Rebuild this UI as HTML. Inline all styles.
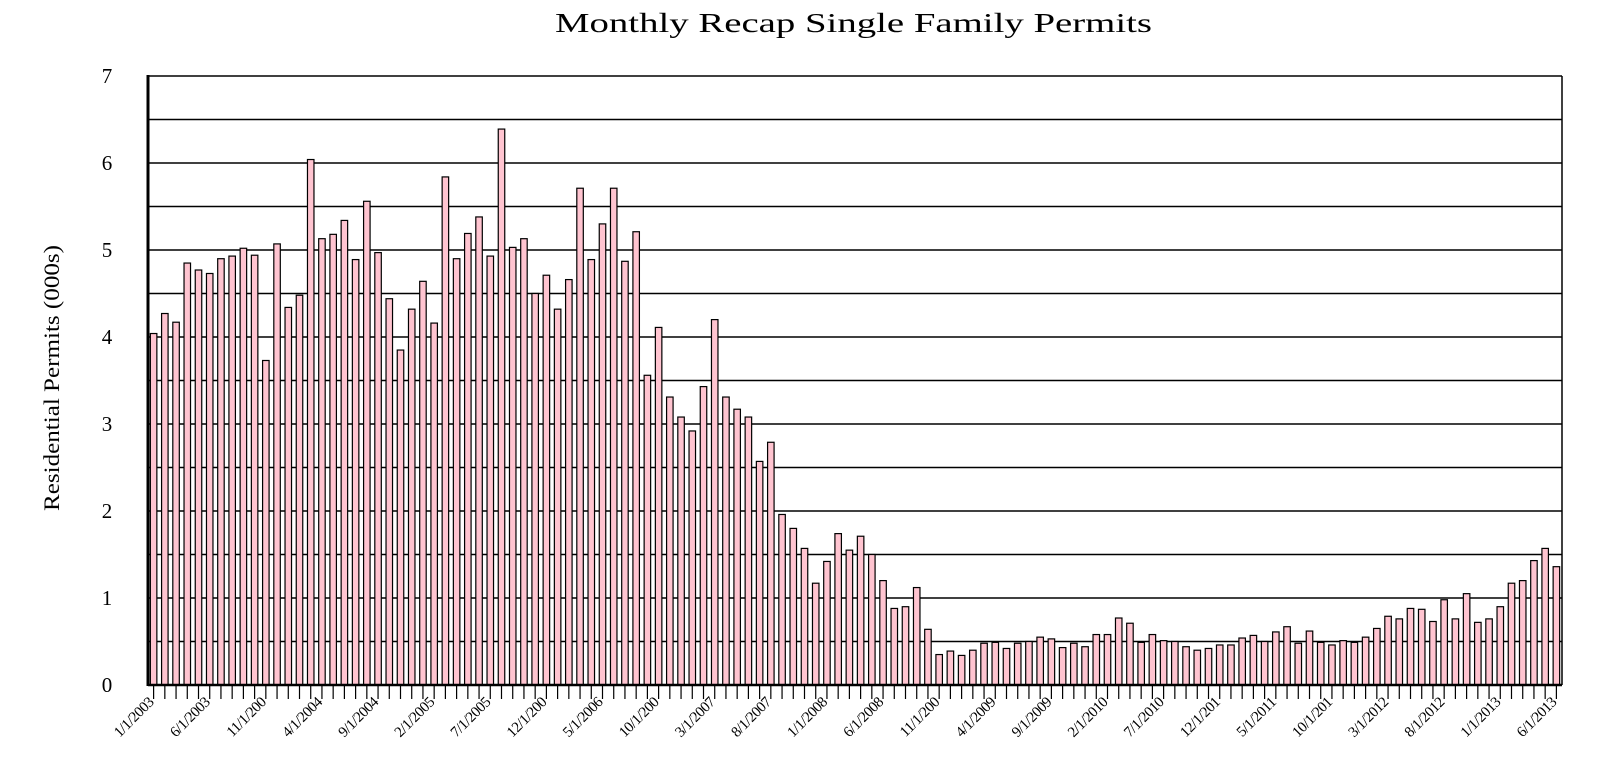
<!DOCTYPE html>
<html><head><meta charset="utf-8"><style>
html,body{margin:0;padding:0;background:#fff;}
svg{display:block;font-family:"Liberation Serif",serif;}
</style></head><body>
<svg id="chart" width="1598" height="769" viewBox="0 0 1598 769" xmlns="http://www.w3.org/2000/svg">
<text x="555" y="32" font-size="27" textLength="597" lengthAdjust="spacingAndGlyphs" fill="#000">Monthly Recap Single Family Permits</text>
<text transform="translate(59,378) rotate(-90)" text-anchor="middle" font-size="22" textLength="266" lengthAdjust="spacingAndGlyphs" fill="#000">Residential Permits (000s)</text>
<g id="grid"></g>
<g id="bars"></g>
<g id="axes"></g>
<g id="yticks"></g>
<g id="xticks"></g>
</svg>
<script>
const permitValues = [4.04,4.27,4.17,4.85,4.77,4.73,4.90,4.93,5.02,4.94,3.73,5.07,4.34,4.48,6.04,5.13,5.18,5.34,4.89,5.56,4.97,4.44,3.85,4.32,4.64,4.16,5.84,4.90,5.19,5.38,4.93,6.39,
5.03,5.13,4.50,4.71,4.32,4.66,5.71,4.89,5.30,5.71,4.87,5.21,3.56,4.11,3.31,3.08,2.92,3.43,4.20,3.31,3.17,3.08,2.57,2.79,1.96,1.80,1.57,1.17,1.42,1.74,1.55,
1.71,1.50,1.20,0.88,0.90,1.12,0.64,0.35,0.39,0.34,0.40,0.48,0.49,0.42,0.48,0.50,0.55,0.53,0.43,0.48,0.44,0.58,0.58,0.77,0.71,0.49,0.58,0.51,0.50,0.44,0.40,
0.42,0.46,0.46,0.54,0.57,0.50,0.61,0.67,0.48,0.62,0.49,0.46,0.51,0.49,0.55,0.65,0.79,0.76,0.88,0.87,0.73,0.98,0.76,1.05,0.72,0.76,0.90,1.17,1.20,1.43,1.57,1.36];
const xTickLabels = ["1/1/2003","6/1/2003","11/1/200","4/1/2004","9/1/2004","2/1/2005","7/1/2005","12/1/200","5/1/2006","10/1/200","3/1/2007","8/1/2007","1/1/2008","6/1/2008","11/1/200","4/1/2009","9/1/2009","2/1/2010","7/1/2010","12/1/201","5/1/2011","10/1/201","3/1/2012","8/1/2012","1/1/2013","6/1/2013"];
const xLabelEvery = 5;
const yTickValues = [0,1,2,3,4,5,6,7];
const yGridValues = [0.5,1,1.5,2,2.5,3,3.5,4,4.5,5,5.5,6,6.5,7];
const yMax = 7;

const NS = "http://www.w3.org/2000/svg";
const L = 148, R = 1562, T = 76, B = 685;
const n = permitValues.length;
const step = (R - L) / n;
function xc(i){ return L + (i + 0.5) * step; }
function yv(v){ return B - (v / yMax) * (B - T); }
function mk(tag, attrs, parent){ const e = document.createElementNS(NS, tag); for (const k in attrs) e.setAttribute(k, attrs[k]); parent.appendChild(e); return e; }

const grid = document.getElementById('grid');
yGridValues.forEach(v => {
  const ln = mk('line', {x1:L, x2:R, y1:yv(v), y2:yv(v), stroke:'#000', 'stroke-width':1.5}, grid);
  
  
});

const bars = document.getElementById('bars');
const bw = 6.5;
permitValues.forEach((v, i) => {
  const r = mk('rect', {x:xc(i)-bw/2, y:yv(v), width:bw, height:B - yv(v), fill:'#ffc4d0', stroke:'#000', 'stroke-width':1.2}, bars);
  
  
});

const axes = document.getElementById('axes');
const rb = mk('line', {x1:R, x2:R, y1:T, y2:B, stroke:'#000', 'stroke-width':1.5}, axes);


const ya = mk('line', {x1:L, x2:L, y1:T-1, y2:B+1, stroke:'#000', 'stroke-width':3}, axes);


const xa = mk('line', {x1:L, x2:R, y1:B, y2:B, stroke:'#000', 'stroke-width':2.5}, axes);


for (let i = 0; i < n; i++) {
  const t = mk('line', {x1:xc(i), x2:xc(i), y1:B, y2:B+14, stroke:'#000', 'stroke-width':1.2}, axes);
  
  
}

const yt = document.getElementById('yticks');
yTickValues.forEach(v => {
  const t = mk('text', {x:107, y:yv(v)+7, 'text-anchor':'middle', 'font-size':21, fill:'#000'}, yt);
  t.textContent = String(v);
  
  
});

const xt = document.getElementById('xticks');
xTickLabels.forEach((lab, k) => {
  const i = k * xLabelEvery;
  const x = xc(i) + 1, y = 703;
  const t = mk('text', {x:x, y:y, 'text-anchor':'end', 'font-size':15, fill:'#000', transform:'rotate(-45 ' + x + ' ' + y + ')', 'letter-spacing':'-0.5'}, xt);
  t.textContent = lab;
  
  
});
</script>
</body></html>
